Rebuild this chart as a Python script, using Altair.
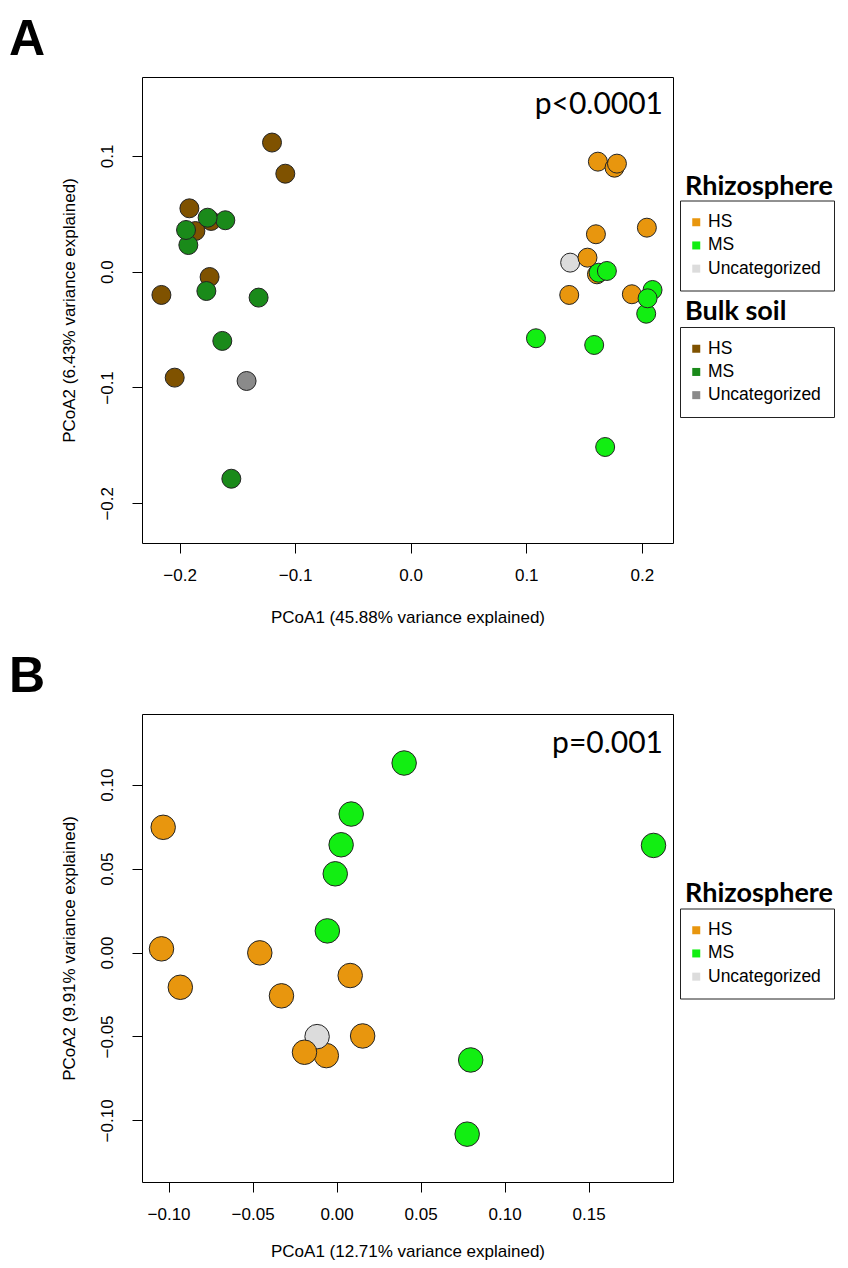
import altair as alt
import pandas as pd

# ---------------- data ----------------
GROUPS = ["HS", "MS", "Uncategorized"]
RHIZO_COLORS = ["#E8960E", "#12EE12", "#DCDCDC"]
BULK_COLORS = ["#7F5200", "#1A8A1A", "#8A8A8A"]

# Panel A, rhizosphere samples (drawing order)
A_RHIZO_X = [0.138, 0.1620, 0.1764, 0.1785, 0.2044, 0.1603, 0.1612, 0.1372, 0.1914,
             0.1626, 0.1698, 0.2093, 0.2038, 0.2050, 0.1084, 0.1588, 0.1683, 0.1530]
A_RHIZO_Y = [0.0078, 0.0950, 0.0898, 0.0933, 0.0380, 0.0323, -0.0023, -0.0201, -0.0195,
             -0.0009, 0.0006, -0.0158, -0.0363, -0.0230, -0.0575, -0.0633, -0.1514, 0.0121]
A_RHIZO_G = ["Uncategorized", "HS", "HS", "HS", "HS", "HS", "HS", "HS", "HS",
             "MS", "MS", "MS", "MS", "MS", "MS", "MS", "MS", "HS"]

# Panel A, bulk soil samples (drawing order)
A_BULK_X = [-0.1200, -0.1085, -0.1915, -0.1727, -0.1863, -0.1740, -0.2157, -0.2042,
            -0.1604, -0.1757, -0.1924, -0.1944, -0.1768, -0.1316, -0.1630, -0.1552, -0.1420]
A_BULK_Y = [0.1115, 0.0846, 0.0547, 0.0438, 0.0351, -0.0046, -0.0201, -0.0915,
            0.0444, 0.0466, 0.0230, 0.0360, -0.0167, -0.0224, -0.0598, -0.1788, -0.0944]
A_BULK_G = ["HS", "HS", "HS", "HS", "HS", "HS", "HS", "HS",
            "MS", "MS", "MS", "MS", "MS", "MS", "MS", "MS", "Uncategorized"]

# Panel B, rhizosphere samples (drawing order)
B_X = [-0.0061, -0.0116, -0.0191, -0.1032, -0.1042, -0.0457, 0.0081, -0.0930, -0.0328, 0.0155,
       0.0402, 0.0087, 0.0027, 0.1886, -0.0008, -0.0055, 0.0798, 0.0777]
B_Y = [-0.0614, -0.0501, -0.0594, 0.0746, 0.0022, -0.0002, -0.0137, -0.0207, -0.0258, -0.0497,
       0.1129, 0.0825, 0.0642, 0.0638, 0.0469, 0.0129, -0.0640, -0.1082]
B_G = ["HS", "Uncategorized", "HS", "HS", "HS", "HS", "HS", "HS", "HS", "HS",
       "MS", "MS", "MS", "MS", "MS", "MS", "MS", "MS"]

A_XTICKS = [-0.2, -0.1, 0.0, 0.1, 0.2]
A_YTICKS = [-0.2, -0.1, 0.0, 0.1]
B_XTICKS = [-0.10, -0.05, 0.0, 0.05, 0.10, 0.15]
B_YTICKS = [-0.10, -0.05, 0.0, 0.05, 0.10]
A_XDOM = [-0.2325, 0.2270]
A_YDOM = [-0.2343, 0.1681]
B_XDOM = [-0.1158, 0.2002]
B_YDOM = [-0.1367, 0.1421]

A_XTITLE = "PCoA1 (45.88% variance explained)"
A_YTITLE = "PCoA2 (6.43% variance explained)"
B_XTITLE = "PCoA1 (12.71% variance explained)"
B_YTITLE = "PCoA2 (9.91% variance explained)"
P_A = "p<0.0001"
P_B = "p=0.001"
LEG_RHIZO = "Rhizosphere"
LEG_BULK = "Bulk soil"
LABEL_A = "A"
LABEL_B = "B"

W = 531
HA = 466
HB = 468
LEG_X = 538


def enc_xy(xdom, ydom, xticks, yticks, fmt, xtitle, ytitle, title_y):
    x = alt.X("x:Q",
              scale=alt.Scale(domain=xdom, nice=False, zero=False),
              axis=alt.Axis(values=xticks, format=fmt, title=xtitle,
                            labelPadding=14.5, labelFlush=False, labelOverlap=False,
                            titleY=title_y, titleBaseline="middle"))
    y = alt.Y("y:Q",
              scale=alt.Scale(domain=ydom, nice=False, zero=False),
              axis=alt.Axis(values=yticks, format=fmt, title=ytitle,
                            labelAngle=270, labelAlign="center", labelBaseline="bottom",
                            labelPadding=16, labelOverlap=False,
                            titleX=-73, titleBaseline="middle"))
    return x, y


def points(xs, ys, gs, colors, legend_y, size, xy):
    df = pd.DataFrame({"x": xs, "y": ys, "g": gs})
    x, y = xy
    return alt.Chart(df).mark_circle(
        size=size, opacity=1, stroke="#232323", strokeWidth=1
    ).encode(
        x=x, y=y,
        color=alt.Color("g:N",
                        scale=alt.Scale(domain=GROUPS, range=colors),
                        legend=alt.Legend(title=None, orient="none",
                                          legendX=LEG_X, legendY=legend_y,
                                          symbolType="square", symbolSize=64,
                                          symbolStrokeWidth=0, symbolOffset=-5.5,
                                          labelOffset=3)),
    )


def text(t, xv, yv, size, weight="normal", align="left", font="Lato"):
    return alt.Chart(pd.DataFrame({"t": [t]})).mark_text(
        font=font, fontSize=size, fontWeight=weight, align=align,
        baseline="alphabetic", color="black"
    ).encode(text="t:N", x=alt.value(xv), y=alt.value(yv))


xyA = enc_xy(A_XDOM, A_YDOM, A_XTICKS, A_YTICKS, ".1f", A_XTITLE, A_YTITLE, 74)
xyB = enc_xy(B_XDOM, B_YDOM, B_XTICKS, B_YTICKS, ".2f", B_XTITLE, B_YTITLE, 69)

panelA = alt.layer(
    points(A_BULK_X, A_BULK_Y, A_BULK_G, BULK_COLORS, 250, 360, xyA),
    points(A_RHIZO_X, A_RHIZO_Y, A_RHIZO_G, RHIZO_COLORS, 123.5, 360, xyA),
    text(P_A, 521, 37, 30, align="right"),
    text(LEG_RHIZO, 543, 118, 27, weight="bold"),
    text(LEG_BULK, 543, 243, 27, weight="bold"),
    text(LABEL_A, -133, -22, 50, weight="bold", font="Liberation Sans"),
).resolve_scale(color="independent").properties(width=W, height=HA)

panelB = alt.layer(
    points(B_X, B_Y, B_G, RHIZO_COLORS, 194.5, 600, xyB),
    text(P_B, 521, 39, 30, align="right"),
    text(LEG_RHIZO, 543, 188, 27, weight="bold"),
    text(LABEL_B, -133, -22, 50, weight="bold", font="Liberation Sans"),
).properties(width=W, height=HB)

chart = alt.vconcat(panelA, panelB, spacing=171, bounds="flush").resolve_scale(
    color="independent"
).properties(
    padding={"left": 0, "top": 6, "right": 0, "bottom": 0}
).configure_view(
    stroke="black", strokeWidth=1
).configure_axis(
    labelFont="Liberation Sans", labelFontSize=17, labelColor="black",
    titleFont="Liberation Sans", titleFontSize=17, titleFontWeight="normal", titleColor="black",
    tickColor="black", tickWidth=1, tickSize=10, domain=False, grid=False
).configure_legend(
    strokeColor="#222222", padding=13, cornerRadius=0,
    labelFont="Liberation Sans", labelFontSize=17.5, labelColor="black",
    rowPadding=4.2, symbolOpacity=1, labelLimit=300
)

chart.save("out.html", embed_options={"renderer": "svg", "actions": False})
